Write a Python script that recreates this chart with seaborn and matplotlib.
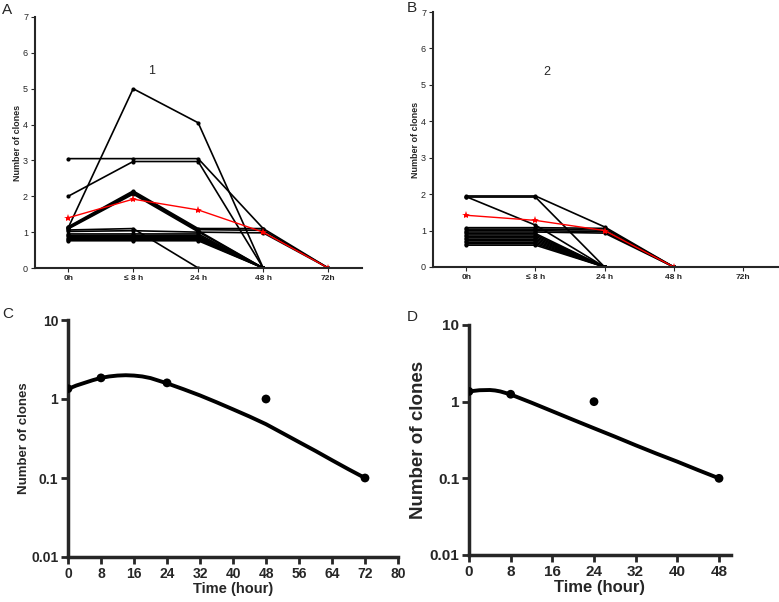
import numpy as np
import pandas as pd
import matplotlib
matplotlib.use("Agg")
import matplotlib.pyplot as plt
import seaborn as sns

nan = np.nan

# ---- Data ----
# Panels A/B: clones per sample over time (category axis)
time_labels_ab = ["0h", "\u2264 8 h", "24 h", "48 h", "72h"]

# panel A, values at 0h, <=8h, 24h, 48h, 72h
a_lines = [
    [1.12, 5.00, 4.05, 0.00, nan],
    [3.05, 3.05, 3.05, 1.10, nan],
    [2.00, 2.97, 2.97, 0.00, nan],
    [1.15, 2.15, 1.10, 1.10, 0.00],
    [1.13, 2.12, 1.07, 1.05, 0.00],
    [1.11, 2.09, 1.04, 0.00, nan],
    [1.09, 2.06, 1.01, 0.00, nan],
    [1.06, 1.10, 0.00, nan, nan],
    [1.02, 1.04, 1.00, 0.98, 0.00],
    [0.95, 0.95, 0.95, 0.00, nan],
    [0.91, 0.91, 0.91, 0.00, nan],
    [0.88, 0.88, 0.88, 0.00, nan],
    [0.85, 0.85, 0.85, 0.00, nan],
    [0.82, 0.82, 0.82, 0.00, nan],
    [0.79, 0.79, 0.79, 0.00, nan],
    [0.76, 0.76, 0.76, 0.00, nan],
]
a_mean = [1.40, 1.92, 1.62, 1.00, 0.00]

# panel B
b_lines = [
    [1.95, 1.95, 1.10, 0.00, nan],
    [1.92, 1.92, 0.00, nan, nan],
    [1.93, 1.15, 0.00, nan, nan],
    [1.08, 1.08, 1.06, 0.00, nan],
    [1.04, 1.04, 1.01, 0.00, nan],
    [1.00, 1.00, 0.97, 0.00, nan],
    [0.96, 0.96, 0.93, 0.00, nan],
    [0.92, 0.92, 0.00, nan, nan],
    [0.88, 0.88, 0.00, nan, nan],
    [0.84, 0.84, 0.00, nan, nan],
    [0.80, 0.80, 0.00, nan, nan],
    [0.76, 0.76, 0.00, nan, nan],
    [0.72, 0.72, 0.00, nan, nan],
    [0.68, 0.68, 0.00, nan, nan],
    [0.64, 0.64, 0.00, nan, nan],
    [0.60, 0.60, 0.00, nan, nan],
]
b_mean = [1.42, 1.28, 1.00, 0.00, nan]

# Panel C: mean clones (log scale) and fitted curve
c_hours = [0, 8, 24, 48, 72]
c_vals = [1.35, 1.85, 1.60, 1.00, 0.10]
c_fit_hours = [0, 2, 4, 6, 8, 10, 12, 14, 16, 18, 20, 24, 28, 32, 36, 40, 44, 48, 52, 56, 60, 64, 68, 72]
c_fit_vals = [1.34, 1.48, 1.60, 1.73, 1.85, 1.93, 1.98, 2.00, 1.98, 1.93, 1.84, 1.58, 1.33, 1.11,
              0.91, 0.74, 0.60, 0.48, 0.37, 0.285, 0.22, 0.168, 0.129, 0.10]

# Panel D
d_hours = [0, 8, 24, 48]
d_vals = [1.36, 1.25, 1.00, 0.10]
d_fit_hours = [0, 2, 4, 5, 6, 7, 8, 12, 16, 20, 24, 28, 32, 36, 40, 44, 48]
d_fit_vals = [1.36, 1.41, 1.42, 1.40, 1.36, 1.30, 1.24, 0.97, 0.75, 0.58, 0.45, 0.35, 0.27, 0.21,
              0.165, 0.128, 0.10]


def to_long(lines):
    rows = []
    for i, vals in enumerate(lines):
        for j, v in enumerate(vals):
            if not np.isnan(v):
                rows.append({"clone": i, "pos": j, "n": v})
    return pd.DataFrame(rows)


sns.set_style("ticks")
plt.rcParams["font.family"] = ["Liberation Sans", "DejaVu Sans"]

W, H = 779, 602
fig = plt.figure(figsize=(W / 100, H / 100), dpi=100)


def px_axes(l, t, r, b):
    return fig.add_axes([l / W, 1 - b / H, (r - l) / W, (b - t) / H])


def spaghetti(ax, lines, mean, xlim):
    df = to_long(lines)
    sns.lineplot(data=df, x="pos", y="n", units="clone", estimator=None, color="black",
                 lw=1.2, marker="o", markersize=3, markeredgewidth=0, ax=ax, legend=False)
    dm = pd.DataFrame({"pos": range(len(mean)), "n": mean}).dropna()
    sns.lineplot(data=dm, x="pos", y="n", color="red", lw=1.0, marker="*", markersize=6,
                 markeredgewidth=0, ax=ax, legend=False)
    ax.set_xlim(*xlim)
    ax.set_ylim(0, 7)
    ax.set_xticks(range(5))
    ax.set_xticklabels(time_labels_ab, fontsize=6, fontweight="bold")
    ax.set_yticks(range(8))
    ax.set_yticklabels([str(i) for i in range(8)], fontsize=6.5)
    ax.tick_params(length=3, width=0.8, pad=2)
    ax.set_xlabel("")
    ax.set_ylabel("Number of clones", fontsize=6.5, fontweight="bold", labelpad=1)
    for s in ["left", "bottom"]:
        ax.spines[s].set_linewidth(1.5)
    sns.despine(ax=ax)


axA = px_axes(35, 17, 362, 268)
spaghetti(axA, a_lines, a_mean, (-0.51, 4.52))
axA.text(1.28, 5.5, "1", fontsize=9, ha="center", va="center")

axB = px_axes(433, 12, 779, 267)
spaghetti(axB, b_lines, b_mean, (-0.48, 4.52))
axB.text(1.17, 5.36, "2", fontsize=9, ha="center", va="center")


def logpanel(ax, hrs, vals, fh, fv, xmax, xticks, tsize, lsize, ysize, ypad):
    sns.lineplot(x=fh, y=fv, color="black", lw=2.8, ax=ax)
    sns.scatterplot(x=hrs, y=vals, color="black", s=40, edgecolor="none", ax=ax, zorder=5)
    ax.set_yscale("log")
    ax.set_ylim(0.01, 10)
    ax.set_xlim(0, xmax)
    ax.set_xticks(xticks)
    ax.set_xticklabels([str(x) for x in xticks], fontsize=tsize, fontweight="bold")
    ax.set_yticks([0.01, 0.1, 1, 10])
    ax.set_yticklabels(["0.01", "0.1", "1", "10"], fontsize=tsize, fontweight="bold")
    ax.minorticks_off()
    ax.tick_params(length=5, width=2, pad=2)
    ax.set_xlabel("Time (hour)", fontsize=lsize, fontweight="bold", labelpad=1)
    ax.set_ylabel("Number of clones", fontsize=ysize, fontweight="bold", labelpad=ypad)
    for s in ["left", "bottom"]:
        ax.spines[s].set_linewidth(2.5)
    sns.despine(ax=ax)


axC = px_axes(68, 320, 398, 557)
logpanel(axC, c_hours, c_vals, c_fit_hours, c_fit_vals, 80, list(range(0, 81, 8)),
         10, 10.5, 9.5, 1)

axD = px_axes(469, 325, 731, 555)
logpanel(axD, d_hours, d_vals, d_fit_hours, d_fit_vals, 50.3, list(range(0, 49, 8)),
         11, 12, 13.5, 2)

for letter, x, y in [("A", 7, 10), ("B", 412, 8), ("C", 8, 314), ("D", 412, 317)]:
    fig.text(x / W, 1 - y / H, letter, fontsize=11, ha="center", va="center")

plt.savefig("out.png", dpi=100)
plt.close()
